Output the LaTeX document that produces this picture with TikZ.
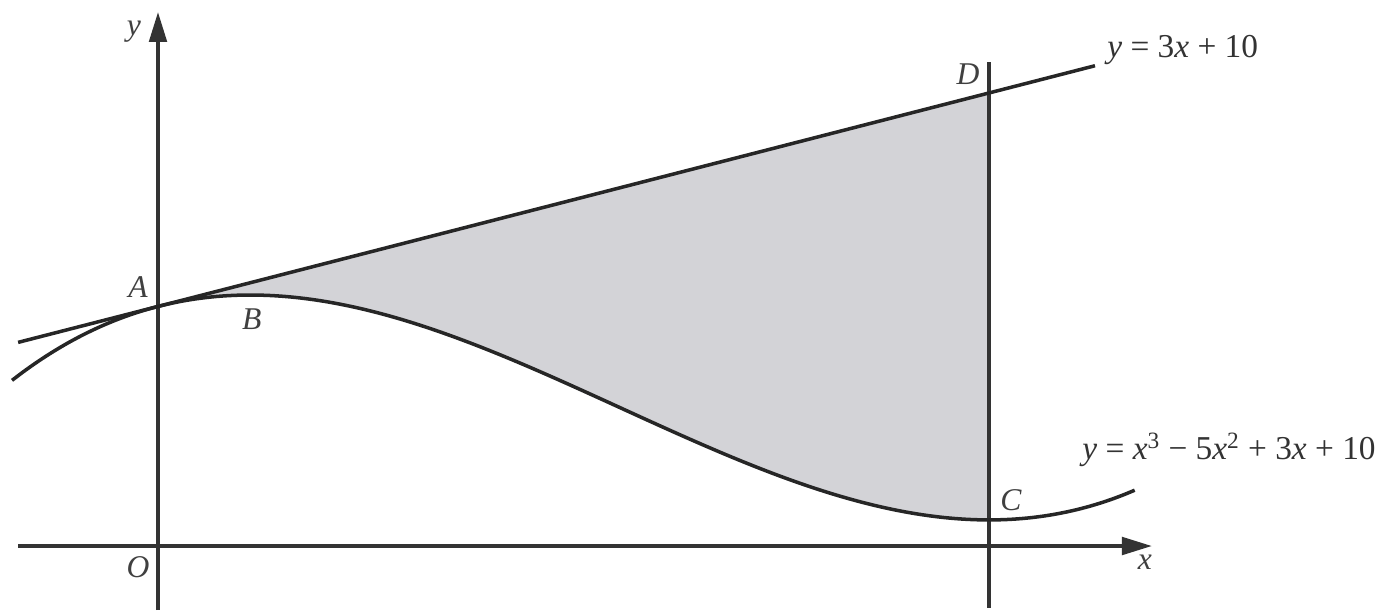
\documentclass[tikz,border=0pt]{standalone}
\usepackage{fontspec}
\setmainfont{Liberation Serif}
\usetikzlibrary{arrows.meta}
\definecolor{regiongray}{RGB}{211, 211, 215}

\begin{document}
\begin{tikzpicture}[
  x=5.54cm, y=0.4744cm,
  curveline/.style={line width=2pt, black!85},
  axisline/.style={line width=1.9pt, black!80, -{Triangle[length=17pt, width=10pt]}},
  ptlabel/.style={font=\fontsize{18}{20}\selectfont\itshape, text=black!75, inner sep=0pt},
  eqlabel/.style={font=\fontsize{19}{22}\selectfont, text=black!80, inner sep=0pt, anchor=west}
]
  \useasboundingbox (-0.5704, -2.92) rectangle (4.408, 22.92);

  % shaded region between the line and the curve
  \fill[regiongray] (0, 10) -- (3, 19) -- plot[domain=3:0, samples=80, smooth] (\x, {\x*\x*\x - 5*\x*\x + 3*\x + 10}) -- cycle;

  % axes
  \draw[axisline] (-0.505, -0.1) -- (3.588, -0.1);
  \draw[axisline] (0, -2.8) -- (0, 22.41);
  \draw[line width=1.9pt, black!80] (3, -2.71) -- (3, 20.3);

  % line and curve
  \draw[curveline] plot[domain=-0.505:3.383] (\x, {3*\x + 10});
  \draw[curveline] plot[domain=-0.527:3.527, samples=100, smooth] (\x, {\x*\x*\x - 5*\x*\x + 3*\x + 10});

  \node[ptlabel] (ylab) at (-0.0866, 21.57) {y};
  \node[ptlabel] (xlab) at (3.563, -0.77) {x};
  \node[ptlabel] (O) at (-0.072, -0.99) {O};
  \node[ptlabel] (A) at (-0.072, 10.82) {A};
  \node[ptlabel] (B) at (0.339, 9.47) {B};
  \node[ptlabel] (C) at (3.079, 1.84) {C};
  \node[ptlabel] (D) at (2.924, 19.80) {D};
  \node[eqlabel] (lineeq) at (3.426, 20.81) {\textit{y} = 3\textit{x} + 10};
  \node[eqlabel] (curveeq) at (3.336, 3.95) {\textit{y} = \textit{x}\textsuperscript{3} − 5\textit{x}\textsuperscript{2} + 3\textit{x} + 10};
\end{tikzpicture}
\end{document}
